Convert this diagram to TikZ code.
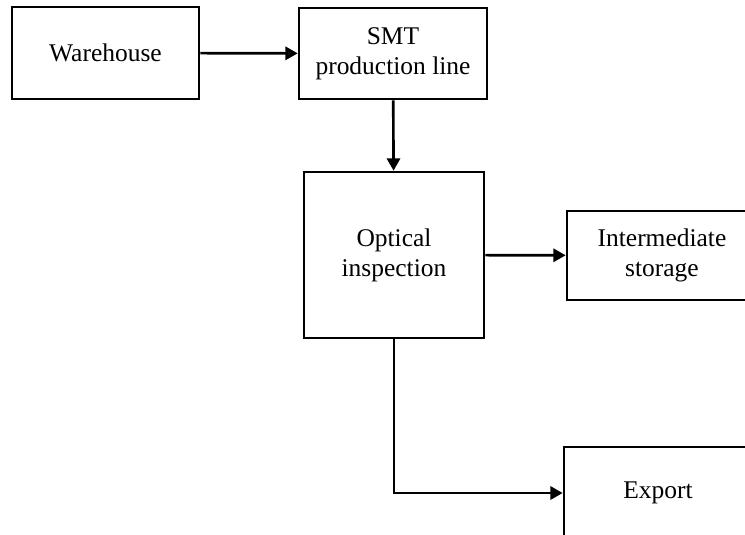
\documentclass[tikz,border=0pt]{standalone}
\usepackage{fontspec}
\setmainfont{Liberation Serif}
\usetikzlibrary{arrows.meta}
\tikzset{stage/.style={draw,rectangle,line width=1.5pt,align=center,inner sep=0pt,
		font=\fontsize{14.5}{17}\selectfont},
	flow/.style={line width=1.5pt,-{Triangle[length=7pt,width=7.5pt]}}}

\begin{document}
\begin{tikzpicture}[x=0.02cm,y=-0.02cm]
\path[use as bounding box,clip] (0,0) rectangle (745,535);
\node [stage,minimum width=187*0.02cm,minimum height=92*0.02cm] (wh) at (105.5,53) {Warehouse};
\node [stage,minimum width=188*0.02cm,minimum height=91*0.02cm] (smt) at (393,53.5) {SMT\\production line};
\node [stage,minimum width=180*0.02cm,minimum height=166*0.02cm] (opt) at (394,255) {Optical\\inspection};
\node [stage,minimum width=190*0.02cm,minimum height=89*0.02cm] (ist) at (662,255.5) {Intermediate\\storage};
\node [stage,minimum width=188*0.02cm,minimum height=92*0.02cm] (exp) at (658,493) {Export};
\draw [flow] (wh) -- (smt);
\draw [flow] (smt) -- (opt);
\draw [flow] (opt) -- (ist);
\draw [flow] (opt.south) |- (exp.west);
\end{tikzpicture}
\end{document}
